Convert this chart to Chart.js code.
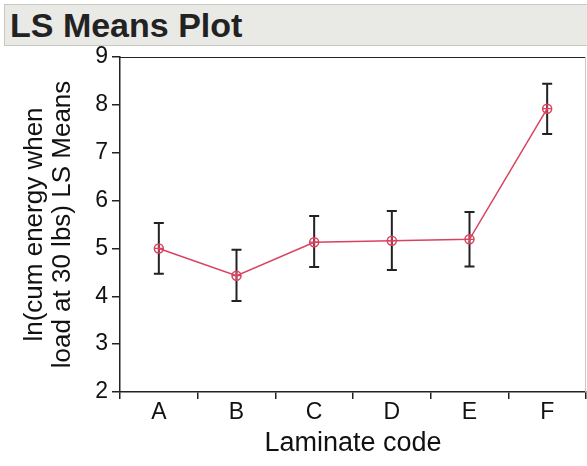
<!DOCTYPE html>
<html>
<head>
<meta charset="utf-8">
<script src="https://cdn.jsdelivr.net/npm/chart.js@4/dist/chart.umd.min.js"></script>
<style>
  html, body { margin: 0; padding: 0; background: #fff; }
  #wrap { position: relative; width: 587px; height: 466px; overflow: hidden; }
  #c { position: absolute; left: 0; top: 0; }
  #hdr {
    position: absolute; left: 4px; top: 4px; width: 590px; height: 42px;
    background: #e9e9e5; border: 1px solid #c8c8c0; box-sizing: border-box;
    font-family: "Liberation Sans", Arial, sans-serif; font-weight: bold;
    font-size: 34px; line-height: 40px; color: #222; padding-left: 5px;
  }
</style>
</head>
<body>
<div id="wrap">
  <canvas id="c" width="587" height="466"></canvas>
  <div id="hdr">LS Means Plot</div>
</div>
<script>
const categories = ['A', 'B', 'C', 'D', 'E', 'F'];
const lsMeans = [5.00, 4.43, 5.13, 5.16, 5.19, 7.92];
const upperCI = [5.53, 4.97, 5.68, 5.78, 5.76, 8.44];
const lowerCI = [4.47, 3.90, 4.61, 4.55, 4.62, 7.39];
const yTicks = [2, 3, 4, 5, 6, 7, 8, 9];

const FONT = '"Liberation Sans", Arial, sans-serif';
const LINE_COLOR = '#d9425f';

const errorBars = {
  id: 'errorBars',
  beforeDatasetsDraw(chart) {
    const { ctx, scales: { x, y } } = chart;
    ctx.save();
    ctx.strokeStyle = '#222';
    ctx.lineWidth = 2;
    categories.forEach((c, i) => {
      const px = x.getPixelForValue(i);
      const yt = y.getPixelForValue(upperCI[i]);
      const yb = y.getPixelForValue(lowerCI[i]);
      ctx.beginPath();
      ctx.moveTo(px, yt); ctx.lineTo(px, yb);
      ctx.moveTo(px - 5, yt); ctx.lineTo(px + 5, yt);
      ctx.moveTo(px - 5, yb); ctx.lineTo(px + 5, yb);
      ctx.stroke();
    });
    ctx.restore();
  },
  afterDraw(chart) {
    const { ctx, chartArea: a } = chart;
    ctx.save();
    ctx.lineWidth = 1;
    ctx.strokeStyle = '#222';
    ctx.beginPath();
    ctx.moveTo(a.left, a.top + 0.5); ctx.lineTo(a.right, a.top + 0.5);
    ctx.stroke();
    ctx.strokeStyle = '#c8c8c8';
    ctx.beginPath();
    ctx.moveTo(a.right - 0.5, a.top); ctx.lineTo(a.right - 0.5, a.bottom);
    ctx.stroke();
    ctx.restore();
  }
};

new Chart(document.getElementById('c'), {
  type: 'line',
  data: {
    labels: categories,
    datasets: [
      {
        data: lsMeans,
        borderColor: LINE_COLOR,
        borderWidth: 1.5,
        pointStyle: 'circle',
        pointRadius: 4.5,
        pointBorderWidth: 1.5,
        pointBorderColor: LINE_COLOR,
        pointBackgroundColor: 'rgba(0,0,0,0)',
        tension: 0
      },
      {
        data: lsMeans,
        showLine: false,
        pointStyle: 'cross',
        pointRadius: 4.5,
        pointBorderWidth: 1.2,
        pointBorderColor: LINE_COLOR
      }
    ]
  },
  options: {
    responsive: false,
    animation: false,
    events: [],
    layout: { autoPadding: false, padding: { top: 57, right: 1, left: 0, bottom: 0 } },
    plugins: { legend: { display: false }, tooltip: { enabled: false }, title: { display: false } },
    scales: {
      x: {
        type: 'category',
        offset: true,
        afterFit(s) { s.height = 74; s.paddingLeft = 0; s.paddingRight = 0; },
        border: { color: '#222', width: 1.5 },
        grid: { offset: true, drawOnChartArea: false, drawTicks: true, tickLength: 7, color: '#222', lineWidth: 1.5 },
        ticks: { color: '#111', font: { family: FONT, size: 23 }, padding: 0 },
        title: { display: true, text: 'Laminate code', color: '#111', font: { family: FONT, size: 27 }, padding: { top: 2, bottom: 6 } }
      },
      y: {
        min: 2, max: 9,
        afterFit(s) { s.width = 120; s.paddingTop = 0; s.paddingBottom = 0; },
        afterBuildTicks(s) { s.ticks = yTicks.map(v => ({ value: v })); },
        border: { color: '#222', width: 1.5 },
        grid: { drawOnChartArea: false, drawTicks: true, tickLength: 8, color: '#222', lineWidth: 1.5 },
        ticks: { color: '#111', font: { family: FONT, size: 23 }, padding: 4 },
        title: {
          display: true,
          text: ['ln(cum energy when', 'load at 30 lbs) LS Means'],
          color: '#111',
          font: { family: FONT, size: 26, lineHeight: 1.06 },
          padding: { top: 21, bottom: 0 }
        }
      }
    }
  },
  plugins: [errorBars]
});
</script>
</body>
</html>
